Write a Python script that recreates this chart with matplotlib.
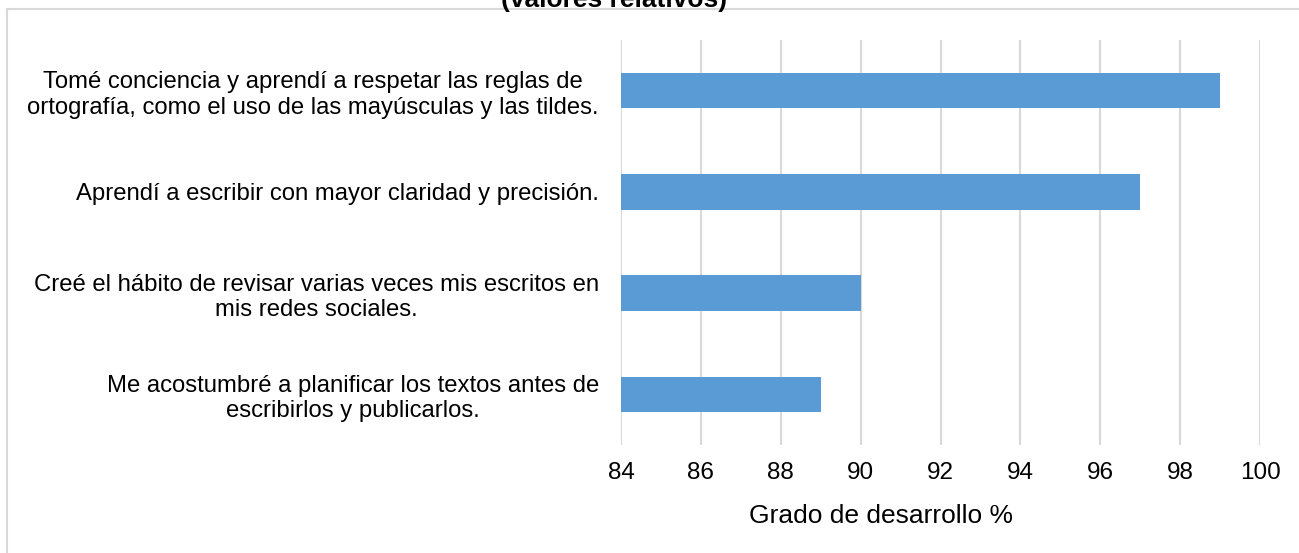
import matplotlib.pyplot as plt
from matplotlib.lines import Line2D

plt.rcParams['font.family'] = ['Liberation Sans', 'DejaVu Sans']

categorias = [
    "Me acostumbré a planificar los textos antes de\nescribirlos y publicarlos.",
    "Creé el hábito de revisar varias veces mis escritos en\nmis redes sociales.",
    "Aprendí a escribir con mayor claridad y precisión.",
    "Tomé conciencia y aprendí a respetar las reglas de\nortografía, como el uso de las mayúsculas y las tildes.",
]
valores = [89, 90, 97, 99]
ticks_x = [84, 86, 88, 90, 92, 94, 96, 98, 100]

fig = plt.figure(figsize=(12.99, 5.53), dpi=100)
ax = fig.add_axes([621 / 1299, 1 - 445 / 553, 639 / 1299, 405 / 553])

ax.barh(range(len(valores)), valores, height=0.35, color="#5B9BD5", zorder=3)
ax.set_xlim(84, 100)
ax.set_ylim(-0.5, len(valores) - 0.5)
ax.set_xticks(ticks_x)
ax.set_yticks(range(len(categorias)))
ax.set_yticklabels(categorias, ha="right", multialignment="center")
ax.tick_params(axis="y", length=0, pad=16, labelsize=17.2)
ax.tick_params(axis="x", length=0, pad=12, labelsize=17.5)
ax.grid(axis="x", color="#D9D9D9", linewidth=1.5, zorder=0)
for s in ax.spines.values():
    s.set_visible(False)
ax.set_xlabel("Grado de desarrollo %", fontsize=19)
ax.xaxis.set_label_coords(0.407, -0.145)

# marco del gráfico
fig.add_artist(Line2D([6.5 / 1299, 1], [1 - 9 / 553, 1 - 9 / 553], color="#D9D9D9", lw=1.5))
fig.add_artist(Line2D([6.5 / 1299, 6.5 / 1299], [0, 1 - 9 / 553], color="#D9D9D9", lw=1.5))

# título recortado en la parte superior
fig.text(614 / 1299, 1 - 7 / 553, "(valores relativos)", ha="center", va="baseline",
         fontsize=19, fontweight="bold")

fig.savefig("out.png", dpi=100)
